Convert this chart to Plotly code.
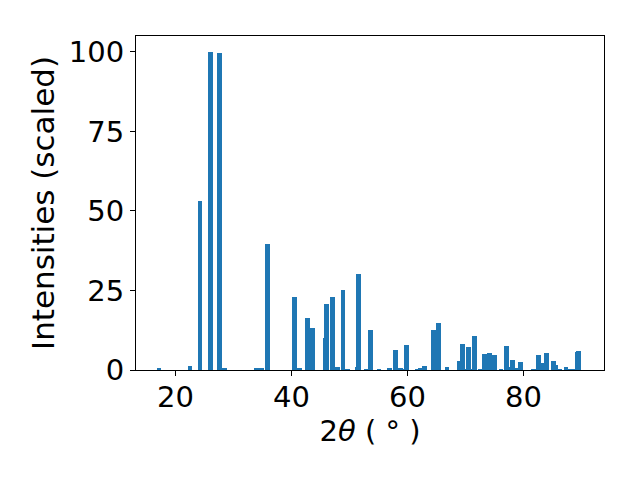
import plotly.graph_objects as go

# 2-theta positions (degrees) and scaled intensities
two_theta = [17.19, 22.53, 24.26, 26.03, 27.59, 28.48, 34.0, 34.83, 35.9,
             40.55, 41.4, 42.8, 43.65, 45.86, 46.03, 47.07, 47.93, 48.9, 49.66,
             51.38, 51.55, 52.88, 53.62, 55.12, 56.9, 57.93, 58.79, 59.2, 59.83,
             61.72, 62.24, 62.97, 64.52, 65.34, 66.84, 68.97, 69.48, 70.03, 70.52,
             71.07, 71.62, 71.55, 72.6, 73.3, 74.17, 75.03, 76.15, 77.07, 77.7,
             78.1, 78.83, 79.52, 81.76, 82.59, 83.28, 84.0, 85.52, 85.17, 86.2,
             87.35, 87.9, 88.6, 89.31, 89.48]
intensity = [0.5, 1.4, 53.0, 100.0, 99.7, 0.5, 0.5, 0.7, 39.5,
             22.8, 0.5, 16.5, 13.3, 10.2, 20.9, 22.8, 1.1, 25.3, 0.3,
             1.1, 30.3, 0.3, 12.7, 0.3, 0.5, 6.4, 0.5, 0.3, 8.0,
             0.3, 0.5, 1.4, 12.7, 14.9, 0.8, 2.7, 8.3, 0.3, 7.1,
             0.3, 5.5, 10.8, 0.3, 4.9, 5.5, 4.6, 0.3, 7.7, 0.8,
             3.3, 0.5, 2.6, 0.3, 4.6, 2.3, 5.5, 1.6, 2.9, 0.3,
             1.0, 0.3, 0.2, 5.7, 6.1]

x_ticks = [20, 40, 60, 80]
y_ticks = [0, 25, 50, 75, 100]

FONT = "DejaVu Sans"

fig = go.Figure(go.Bar(x=two_theta, y=intensity, width=0.8,
                       marker=dict(color="#1f77b4", line=dict(width=0))))

fig.update_layout(
    width=640, height=480,
    margin=dict(l=128, r=44, t=28, b=118),
    paper_bgcolor="white", plot_bgcolor="white",
    font=dict(family=FONT, size=28, color="black"),
    showlegend=False,
    bargap=0,
)
fig.update_xaxes(
    range=[13.2, 93.9], tickvals=x_ticks, ticks="outside", ticklen=5,
    tickwidth=1, tickcolor="black", showline=True, linecolor="black",
    linewidth=1, mirror=True, showgrid=False, zeroline=False,
    title=dict(text="2<i>θ</i> ( ° )", font=dict(size=29), standoff=5),
    tickfont=dict(size=29), ticklabelstandoff=-4,
)
fig.update_yaxes(
    range=[0, 105], tickvals=y_ticks, ticks="outside", ticklen=5,
    tickwidth=1, tickcolor="black", showline=True, linecolor="black",
    linewidth=1, mirror=True, showgrid=False, zeroline=False,
    title=dict(text="Intensities (scaled)", font=dict(size=31), standoff=4),
    tickfont=dict(size=29),
)

fig.write_html("out.html")
